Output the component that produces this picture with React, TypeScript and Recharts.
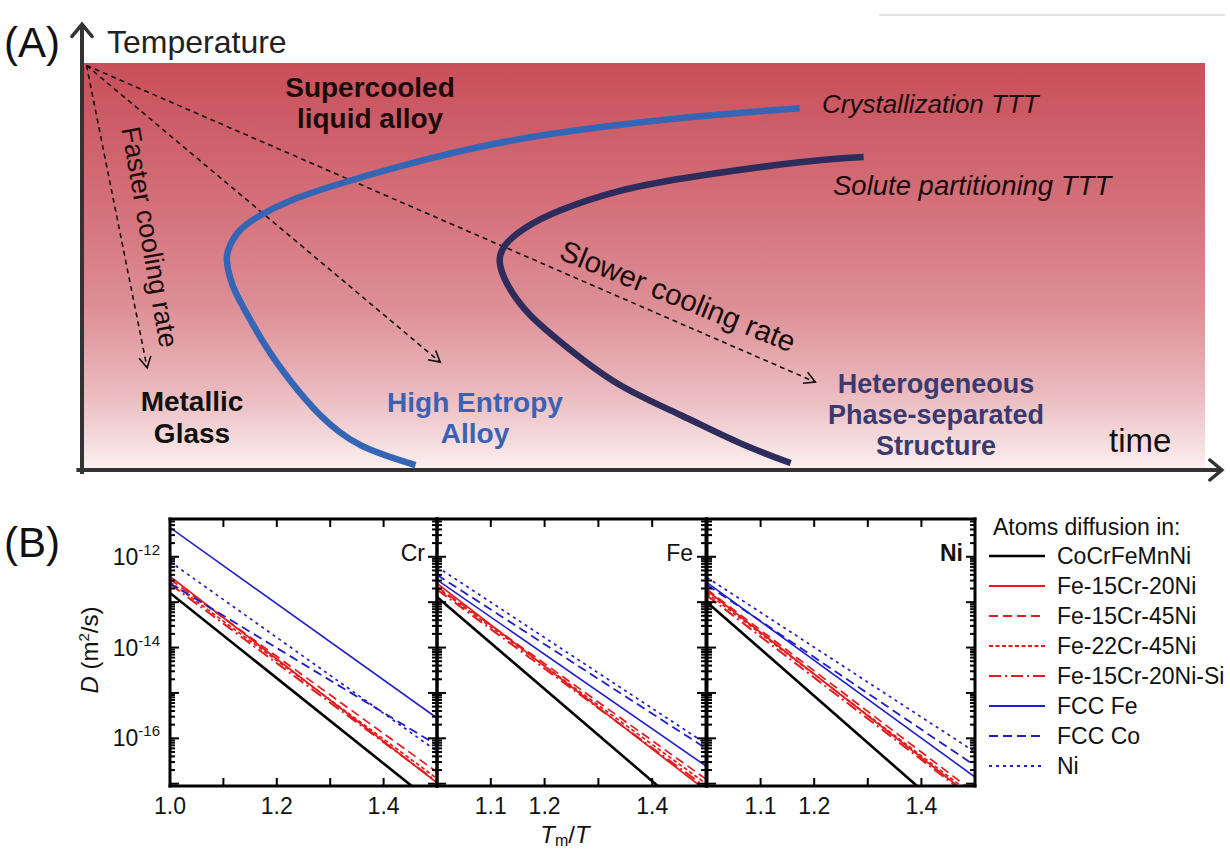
import React from 'react';
import { LineChart, Line, XAxis, YAxis, ReferenceLine, ReferenceArea, Legend } from 'recharts';

const FONT = '"Liberation Sans", Arial, Helvetica, sans-serif';

// ---------- Panel (A): schematic TTT diagram (time %, temperature % of frame) ----------
const crystTime = [63.9, 55.0, 46.1, 37.2, 28.3, 22.1, 18.5, 15.9, 14.1, 13.2, 12.9, 13.4, 14.5, 16.3, 18.5, 21.2, 24.8, 29.7];
const crystTemp = [88.9, 86.9, 84.2, 80.4, 74.6, 69.6, 66.1, 62.6, 59.0, 55.3, 51.6, 45.5, 39.3, 30.7, 22.1, 13.5, 6.1, 1.2];
const soluteTime = [69.6, 63.9, 55.0, 47.9, 42.6, 39.5, 37.7, 37.2, 37.9, 39.9, 43.5, 47.9, 53.3, 58.6, 63.1];
const soluteTemp = [76.9, 75.6, 72.3, 68.6, 63.8, 59.5, 55.3, 51.1, 45.5, 38.1, 29.5, 20.9, 13.5, 6.6, 1.7];
const coolStartTime = 0.4;
const coolStartTemp = 99.4;
const coolEndTime = [5.8, 31.9, 65.3];
const coolEndTemp = [25.1, 26.5, 21.6];

// ---------- Panel (B): diffusion coefficients ----------
const seriesNames = ['CoCrFeMnNi', 'Fe-15Cr-20Ni', 'Fe-15Cr-45Ni', 'Fe-22Cr-45Ni', 'Fe-15Cr-20Ni-Si', 'FCC Fe', 'FCC Co', 'Ni'];
const tmOverT = [1.0, 1.5];
// D (m^2/s) at Tm/T = 1.0 and at Tm/T = 1.5
const crAt10 = [1.6e-13, 3.7e-13, 3.2e-13, 2.8e-13, 2.5e-13, 4.4e-12, 2.6e-13, 7.8e-13];
const crAt15 = [3.2e-18, 1.05e-17, 1.8e-17, 1.3e-17, 1.1e-17, 2.8e-16, 7.1e-17, 5.2e-17];
const feAt10 = [1.3e-13, 2.6e-13, 2.2e-13, 2.1e-13, 1.9e-13, 3.1e-13, 4.0e-13, 6.0e-13];
const feAt15 = [1.1e-18, 7.1e-18, 1.26e-17, 1.0e-17, 8.3e-18, 2.45e-17, 6.0e-17, 7.6e-17];
const niAt10 = [1.0e-13, 1.8e-13, 1.9e-13, 1.6e-13, 1.4e-13, 2.7e-13, 2.4e-13, 3.5e-13];
const niAt15 = [6.8e-19, 4.5e-18, 6.3e-18, 5.2e-18, 4.2e-18, 1.4e-17, 2.5e-17, 5.0e-17];

const xTicks = [1.0, 1.1, 1.2, 1.3, 1.4, 1.5];
const yDomain = [8.9e-18, 6.8e-12];
const yDecades = [1e-18, 1e-17, 1e-16, 1e-15, 1e-14, 1e-13, 1e-12];
const yMinorFactors = [2, 3, 4, 5, 6, 7, 8, 9];
const yLabelExps = [-12, -14, -16];

// styles
const seriesColor = ['#000000', '#e41a1c', '#e41a1c', '#e41a1c', '#e41a1c', '#1e1ec8', '#1e1ec8', '#1e1ec8'];
const seriesDash = [undefined, undefined, '9 5', '4 2.5', '12 4 2 4', undefined, '9 5', '3 4'];
const seriesWidth = [2.6, 1.7, 1.7, 1.7, 2.0, 1.6, 1.8, 1.7];

const yTicks = yDecades
  .flatMap((d) => [d, ...yMinorFactors.map((f) => f * d)])
  .filter((v) => v >= yDomain[0] && v <= yDomain[1]);

function buildRows(at10: number[], at15: number[]) {
  return tmOverT.map((x, r) => {
    const row: any = { x };
    (r === 0 ? at10 : at15).forEach((v, i) => { row['s' + i] = v; });
    return row;
  });
}

const isMajor = (v: number) => Math.abs(Math.log10(v) - Math.round(Math.log10(v))) < 1e-6;

function YTick(props: any) {
  const { x, y, payload, side, showLabels } = props;
  const v = payload.value;
  const major = isMajor(v);
  const len = major ? 9 : 5;
  const dir = side === 'left' ? 1 : -1;
  const exp = Math.round(Math.log10(v));
  return (
    <g>
      <line x1={x} x2={x + dir * len} y1={y} y2={y} stroke="#000" strokeWidth={2} />
      {showLabels && major && yLabelExps.includes(exp) && (
        <text x={x - 10} y={y + 8} textAnchor="end" fontSize={23} fill="#111" fontFamily={FONT}>
          10<tspan dy={-10} fontSize={15}>{String(exp)}</tspan>
        </text>
      )}
    </g>
  );
}

function XTick(props: any) {
  const { x, y, payload, side, labels } = props;
  const dir = side === 'bottom' ? -1 : 1;
  return (
    <g>
      <line x1={x} x2={x} y1={y} y2={y + dir * 8} stroke="#000" strokeWidth={2} />
      {side === 'bottom' && labels.includes(payload.value) && (
        <text x={x} y={y + 28} textAnchor="middle" fontSize={23} fill="#111" fontFamily={FONT}>
          {payload.value.toFixed(1)}
        </text>
      )}
    </g>
  );
}

function renderLegend() {
  return (
    <div style={{ fontFamily: FONT, fontSize: 23, color: '#111', lineHeight: '30px' }}>
      <div style={{ height: 28, lineHeight: '28px', marginLeft: 4 }}>Atoms diffusion in:</div>
      {seriesNames.map((name, i) => (
        <div key={name} style={{ display: 'flex', alignItems: 'center', height: 30 }}>
          <svg width={56} height={10} style={{ display: 'block' }}>
            <line x1={0} x2={56} y1={5} y2={5} stroke={seriesColor[i]} strokeWidth={i === 0 ? 2.6 : 2.2} strokeDasharray={seriesDash[i]} />
          </svg>
          <span style={{ marginLeft: 12, whiteSpace: 'nowrap' }}>{name}</span>
        </div>
      ))}
    </div>
  );
}

function DiffPanel(props: any) {
  const { left, width, mLeft, mRight, at10, at15, title, titleX, titleBold, xLabels, showYLabels, legend, children } = props;
  const rows = buildRows(at10, at15);
  const axisLine = { stroke: '#000', strokeWidth: 3, strokeLinecap: 'square' };
  return (
    <div style={{ position: 'absolute', left, top: 500 }}>
      <LineChart width={width} height={350} data={rows} margin={{ top: 18, left: mLeft, right: mRight, bottom: 63 }}>
        <XAxis xAxisId="b" dataKey="x" type="number" domain={[1.0, 1.5]} allowDataOverflow ticks={xTicks} interval={0}
          height={1} tickSize={0} tickMargin={0} tickLine={false} axisLine={axisLine}
          tick={(p: any) => <XTick {...p} side="bottom" labels={xLabels} />} />
        <XAxis xAxisId="t" orientation="top" dataKey="x" type="number" domain={[1.0, 1.5]} allowDataOverflow ticks={xTicks} interval={0}
          height={1} tickSize={0} tickMargin={0} tickLine={false} axisLine={axisLine}
          tick={(p: any) => <XTick {...p} side="top" labels={[]} />} />
        <YAxis yAxisId="l" scale="log" type="number" domain={yDomain} allowDataOverflow ticks={yTicks} interval={0}
          width={1} tickSize={0} tickMargin={0} tickLine={false} axisLine={axisLine}
          tick={(p: any) => <YTick {...p} side="left" showLabels={showYLabels} />} />
        <YAxis yAxisId="r" orientation="right" scale="log" type="number" domain={yDomain} allowDataOverflow ticks={yTicks} interval={0}
          width={1} tickSize={0} tickMargin={0} tickLine={false} axisLine={axisLine}
          tick={(p: any) => <YTick {...p} side="right" showLabels={false} />} />
        {seriesNames.map((name, i) => (
          <Line key={name} name={name} xAxisId="b" yAxisId="l" type="linear" dataKey={'s' + i}
            stroke={seriesColor[i]} strokeWidth={seriesWidth[i]} strokeDasharray={seriesDash[i]}
            dot={false} activeDot={false} isAnimationActive={false} />
        ))}
        {legend && (
          <Legend layout="vertical" align="center" verticalAlign="middle" content={renderLegend}
            wrapperStyle={{ left: 289, top: 13, width: 241 }} />
        )}
        <text x={titleX} y={61} textAnchor="end" fontSize={23} fontWeight={titleBold ? 'bold' : 'normal'} fill="#111" fontFamily={FONT}>{title}</text>
        {children}
      </LineChart>
    </div>
  );
}

export default function App() {
  const crystData = crystTime.map((t, i) => ({ t, T: crystTemp[i] }));
  const soluteData = soluteTime.map((t, i) => ({ t, T: soluteTemp[i] }));
  const coolData = coolEndTime.map((t, i) => [
    { t: coolStartTime, T: coolStartTemp },
    { t, T: coolEndTemp[i] },
  ]);
  const boldLabel = { fontSize: 28, fontWeight: 'bold' as const, textAnchor: 'middle' as const, fontFamily: FONT };
  const boldLabel2 = { ...boldLabel, fontSize: 27 };

  return (
    <div style={{ position: 'absolute', left: 0, top: 0, width: 1230, height: 850, background: '#fff', overflow: 'hidden', fontFamily: FONT }}>
      {/* Panel A */}
      <div style={{ position: 'absolute', left: 0, top: 0 }}>
        <LineChart width={1230} height={500} margin={{ top: 63, left: 82, right: 25, bottom: 30 }}>
          <defs>
            <linearGradient id="bgGrad" x1="0" y1="0" x2="0" y2="1">
              <stop offset="0" stopColor="#c84f59" />
              <stop offset="0.35" stopColor="#d4707a" />
              <stop offset="0.6" stopColor="#dd8f96" />
              <stop offset="0.82" stopColor="#ebbcc0" />
              <stop offset="1" stopColor="#fbf0f0" />
            </linearGradient>
            <marker id="axisArrow" markerUnits="userSpaceOnUse" markerWidth={22} markerHeight={26} refX={15} refY={12} orient="auto">
              <path d="M3,2 L15,12 L3,22" fill="none" stroke="#333" strokeWidth={3.5} strokeLinecap="round" strokeLinejoin="miter" />
            </marker>
            <marker id="dashArrow" markerUnits="userSpaceOnUse" markerWidth={16} markerHeight={16} refX={12} refY={7} orient="auto">
              <path d="M1,1 L12,7 L1,13" fill="none" stroke="#111" strokeWidth={1.6} strokeDasharray="none" />
            </marker>
          </defs>
          <XAxis type="number" dataKey="t" domain={[0, 100]} hide allowDataOverflow />
          <YAxis type="number" dataKey="T" domain={[0, 100]} hide allowDataOverflow />
          <ReferenceArea x1={0} x2={100} y1={0} y2={100} fill="url(#bgGrad)" fillOpacity={1} stroke="none" ifOverflow="visible" />
          <ReferenceLine segment={[{ x: 71, y: 111.8 }, { x: 101.8, y: 111.8 }]} stroke="#e4e4e4" strokeWidth={2} ifOverflow="visible" />
          {coolData.map((d, i) => (
            <Line key={'cool' + i} data={d} dataKey="T" type="linear" stroke="#111" strokeWidth={1.6} strokeDasharray="5 4"
              dot={false} activeDot={false} isAnimationActive={false} markerEnd="url(#dashArrow)" />
          ))}
          <Line data={crystData} dataKey="T" type="natural" stroke="#3566b6" strokeWidth={6.5} dot={false} activeDot={false} isAnimationActive={false} />
          <Line data={soluteData} dataKey="T" type="natural" stroke="#2d2c5c" strokeWidth={6.5} dot={false} activeDot={false} isAnimationActive={false} />
          <ReferenceLine segment={[{ x: 0, y: -1 }, { x: 0, y: 109.5 }]} stroke="#333" strokeWidth={4} ifOverflow="visible" markerEnd="url(#axisArrow)" />
          <ReferenceLine segment={[{ x: -0.5, y: 0 }, { x: 101.5, y: 0 }]} stroke="#333" strokeWidth={4} ifOverflow="visible" markerEnd="url(#axisArrow)" />
        </LineChart>
      </div>
      {/* Panel A annotations (overlay) */}
      <svg width={1230} height={500} style={{ position: 'absolute', left: 0, top: 0, pointerEvents: 'none' }}>
        <text x={4} y={57} fontSize={42} fill="#111" fontFamily={FONT}>(A)</text>
        <text x={107} y={53} fontSize={32} fill="#222" fontFamily={FONT}>Temperature</text>
        <text x={370} y={97} {...boldLabel} fill="#1a0c0c">Supercooled</text>
        <text x={370} y={128} {...boldLabel} fill="#1a0c0c">liquid alloy</text>
        <text x={822} y={113} fontSize={26} fontStyle="italic" fill="#1a0c0c" fontFamily={FONT}>Crystallization TTT</text>
        <text x={833} y={195} fontSize={27.5} fontStyle="italic" fill="#1a0c0c" fontFamily={FONT}>Solute partitioning TTT</text>
        <text transform="translate(150,237) rotate(80)" textAnchor="middle" dy="0.35em" fontSize={27} fill="#1a0c0c" fontFamily={FONT}>Faster cooling rate</text>
        <text transform="translate(678,296) rotate(22)" textAnchor="middle" dy="0.35em" fontSize={29.5} fill="#1a0c0c" fontFamily={FONT}>Slower cooling rate</text>
        <text x={192} y={411} {...boldLabel} fill="#111">Metallic</text>
        <text x={192} y={443} {...boldLabel} fill="#111">Glass</text>
        <text x={475} y={412} {...boldLabel} fill="#3a62b4">High Entropy</text>
        <text x={475} y={443} {...boldLabel} fill="#3a62b4">Alloy</text>
        <text x={936} y={393} {...boldLabel2} fill="#3b3a6e">Heterogeneous</text>
        <text x={936} y={424} {...boldLabel2} fill="#3b3a6e">Phase-separated</text>
        <text x={936} y={455} {...boldLabel2} fill="#3b3a6e">Structure</text>
        <text x={1109} y={452} fontSize={33} fill="#111" fontFamily={FONT}>time</text>
      </svg>

      {/* Panel B */}
      <DiffPanel left={0} width={440} mLeft={169} mRight={2} at10={crAt10} at15={crAt15}
        title="Cr" titleX={425} xLabels={[1.0, 1.2, 1.4]} showYLabels>
        <text x={4} y={57} fontSize={42} fill="#111" fontFamily={FONT}>(B)</text>
        <text transform="translate(98,150) rotate(-90)" textAnchor="middle" fontSize={24} fill="#111" fontFamily={FONT}>
          <tspan fontStyle="italic">D</tspan> (m<tspan dy={-9} fontSize={15}>2</tspan><tspan dy={9}>/s)</tspan>
        </text>
      </DiffPanel>
      <DiffPanel left={430} width={709 - 430} mLeft={6} mRight={2} at10={feAt10} at15={feAt15}
        title="Fe" titleX={263} xLabels={[1.1, 1.2, 1.4]} showYLabels={false}>
        <text x={135} y={343} textAnchor="middle" fontSize={24} fill="#111" fontFamily={FONT}>
          <tspan fontStyle="italic">T</tspan><tspan fontSize={16} dy={3}>m</tspan><tspan dy={-3}>/</tspan><tspan fontStyle="italic">T</tspan>
        </text>
      </DiffPanel>
      <DiffPanel left={700} width={530} mLeft={6} mRight={254} at10={niAt10} at15={niAt15}
        title="Ni" titleX={263} titleBold xLabels={[1.1, 1.2, 1.4]} showYLabels={false} legend />
    </div>
  );
}
